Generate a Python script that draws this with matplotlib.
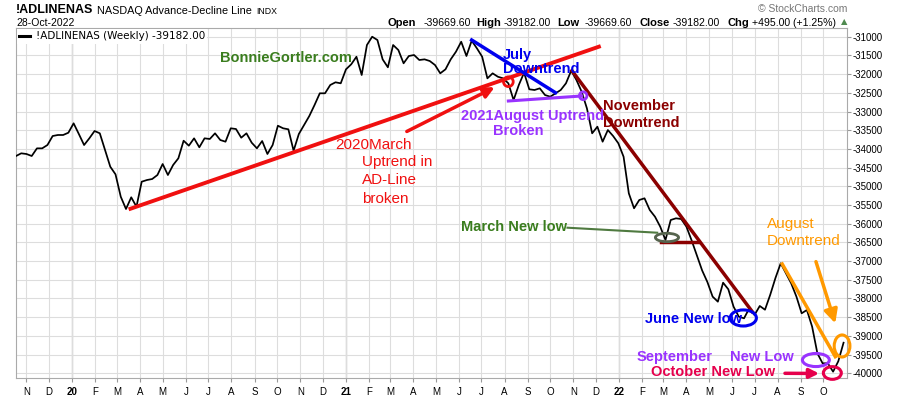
import matplotlib
matplotlib.use('Agg')
import matplotlib.pyplot as plt
import matplotlib.dates as mdates
from matplotlib.patches import Ellipse
import pandas as pd

plt.rcParams['font.family'] = ['Liberation Sans', 'DejaVu Sans']
plt.rcParams['axes.unicode_minus'] = False

# weekly closes of the NASDAQ advance-decline line
weeks = pd.date_range('2019-10-18', periods=159, freq='7D')
adline = [
    -34190, -34118, -34136, -34190, -33985, -33985, -33896, -33655, -33628, -33628,
    -33567, -33316, -33602, -33896, -33717, -33521, -33583, -34029, -34476, -34680,
    -35278, -35607, -35294, -35545, -34877, -34832, -34805, -34698, -34404, -34698,
    -34430, -34251, -33781, -33914, -33717, -33957, -33717, -33735, -33583, -33762,
    -33807,
    -33449, -33468, -33700, -33583, -33834, -33984, -33789, -34136, -33896, -33380,
    -33449, -33476, -34048, -33602, -33361, -33120, -32826, -32513, -32513, -32291,
    -32219, -32246, -31872, -31738, -31535, -32024, -31222, -31000, -31088, -31605,
    -31818, -31222, -31356, -31711, -31516, -31489, -31623, -31605, -31650,
    -31757, -31979, -31872, -31605, -31401, -31134, -31516, -31107, -31311, -31535,
    -32113, -31979, -32070, -32113, -32246, -32693, -32291, -31963, -32406, -32425,
    -32380, -32559, -32604, -32513, -32425, -32246, -31909, -32158, -32471, -32915,
    -33583, -33406, -33807, -33495, -33655, -33850, -34209, -35187, -35588, -35366,
    -35321, -35634, -35813, -36080, -36436, -35901, -35856, -35874, -36080, -36450,
    -36850, -37250, -37560, -37950, -38085, -37577, -37754, -38219, -38486, -38530,
    -38262, -38441, -38200, -38300, -37900, -37450, -37059, -37326, -37594, -37950,
    -38396, -38307, -38754, -39465, -39733, -39733, -39957, -39677, -39182,
]

month_ticks = pd.date_range('2019-11-01', '2022-10-01', freq='MS')
month_labels = ['N', 'D',
                '20', 'F', 'M', 'A', 'M', 'J', 'J', 'A', 'S', 'O', 'N', 'D',
                '21', 'F', 'M', 'A', 'M', 'J', 'J', 'A', 'S', 'O', 'N', 'D',
                '22', 'F', 'M', 'A', 'M', 'J', 'J', 'A', 'S', 'O']
value_ticks = list(range(-40000, -30999, 500))


def d(s):
    return mdates.date2num(pd.Timestamp(s))


fig = plt.figure(figsize=(9, 3.96), dpi=100)
ax = fig.add_axes([16 / 900, 1 - 378.3 / 396, 831.3 / 900, 350 / 396])

ax.plot(weeks, adline, color='black', lw=1.25, zorder=3,
        label=f'!ADLINENAS (Weekly) {adline[-1]:.2f}')

ax.set_xlim(pd.Timestamp('2019-10-18'), pd.Timestamp('2022-11-02'))
ax.set_ylim(-40134, -30775)

# axes / grid
ax.set_xticks(month_ticks)
ax.set_xticklabels(month_labels)
for lab in ax.get_xticklabels():
    if lab.get_text().isdigit():
        lab.set_fontweight('bold')
        lab.set_fontsize(7.5)
ax.yaxis.tick_right()
ax.set_yticks(value_ticks)
ax.set_yticklabels([str(v) for v in value_ticks])
ax.tick_params(axis='x', length=3, pad=3, labelsize=7, color='#999999')
ax.tick_params(axis='y', length=3, pad=1, labelsize=7, color='#999999')
ax.grid(True, color='#dddddd', lw=0.8, zorder=0)
for t, lab in zip(month_ticks, month_labels):
    if lab.isdigit():
        ax.axvline(t, color='#aaaaaa', lw=0.9, zorder=1)
for sp in ax.spines.values():
    sp.set_color('#aaaaaa')
    sp.set_linewidth(0.8)

leg = ax.legend(loc='upper left', bbox_to_anchor=(0.0, 1.0), handlelength=1.0,
                handletextpad=0.6, borderaxespad=0.1, borderpad=0.2,
                frameon=True, fancybox=False, edgecolor='none', framealpha=1,
                prop={'family': 'DejaVu Sans', 'size': 7.5})
leg.get_lines()[0].set_linewidth(2.2)
leg.set_zorder(5)

# analyst drawings
red = '#f01010'
blue = '#0000ee'
purple = '#9933ff'
brown = '#8b0000'
green = '#3a7d1e'
orange = '#ff9900'
crimson = '#e6004c'

ax.plot([d('2020-03-19'), d('2021-12-05')], [-35600, -31267], color=red, lw=2.8, zorder=4)
ax.annotate('', xy=(d('2021-07-22'), -32318), xytext=(d('2021-03-20'), -33567),
            arrowprops=dict(arrowstyle='-|>', color=red, lw=2.5, mutation_scale=16), zorder=4)
ax.add_patch(Ellipse((d('2021-08-06'), -32203), 13, 260, fill=False, ec=red, lw=2, zorder=5))
ax.text(d('2020-12-18'), -33896, '2020March', color=red, fontsize=11, ha='left', va='center')
ax.text(d('2021-01-22'), -34150, 'Uptrend in\nAD-Line\nbroken', color=red, fontsize=11,
        ha='left', va='top', linespacing=1.42)

ax.text(d('2020-07-16'), -31556, 'BonnieGortler.com', color=green, fontsize=10.5,
        fontweight='bold', ha='left', va='center')

ax.plot([d('2021-06-18'), d('2021-10-08')], [-31088, -32497], color=blue, lw=2.5, zorder=4)
ax.text(d('2021-07-30'), -31489, 'July', color=blue, fontsize=10.5, fontweight='bold',
        ha='left', va='center', zorder=6)
ax.text(d('2021-07-30'), -31864, 'Downtrend', color=blue, fontsize=10.5, fontweight='bold',
        ha='left', va='center', zorder=6)

ax.plot([d('2021-08-06'), d('2021-11-12')], [-32719, -32585], color=purple, lw=2.2, zorder=4)
ax.add_patch(Ellipse((d('2021-11-14'), -32578), 10, 210, fill=False, ec=purple, lw=2, zorder=5))
ax.text(d('2021-06-04'), -33120, '2021August Uptrend', color=purple, fontsize=10.5,
        fontweight='bold', ha='left', va='center', zorder=6)
ax.text(d('2021-07-17'), -33521, 'Broken', color=purple, fontsize=10.5,
        fontweight='bold', ha='left', va='center', zorder=6)

ax.plot([d('2021-10-30'), d('2022-06-28')], [-31909, -38353], color=brown, lw=2.5, zorder=4)
ax.plot([d('2022-02-26'), d('2022-04-17')], [-36481, -36481], color=brown, lw=2.5, zorder=4)
ax.text(d('2021-12-10'), -32853, 'November', color=brown, fontsize=10.5, fontweight='bold',
        ha='left', va='center', zorder=6)
ax.text(d('2021-12-10'), -33294, 'Downtrend', color=brown, fontsize=10.5, fontweight='bold',
        ha='left', va='center', zorder=6)

ax.text(d('2021-06-04'), -36088, 'March New low', color=green, fontsize=10.5,
        fontweight='bold', ha='left', va='center', zorder=6)
ax.plot([d('2021-10-24'), d('2022-02-21')], [-36107, -36241], color='#4f7a40', lw=1.5, zorder=4)
ax.add_patch(Ellipse((d('2022-03-06'), -36369), 31, 225, fill=False, ec='#56644e', lw=2, zorder=5))

ax.text(d('2022-02-05'), -38535, 'June New low', color=blue, fontsize=10.5,
        fontweight='bold', ha='left', va='center', zorder=6)
ax.add_patch(Ellipse((d('2022-06-16'), -38521), 35, 430, fill=False, ec=blue, lw=2.2, zorder=7))

ax.plot([d('2022-08-07'), d('2022-10-17')], [-37078, -39556], color=orange, lw=2.5, zorder=4)
ax.text(d('2022-07-18'), -36008, 'August', color=orange, fontsize=11, ha='left', va='center')
ax.text(d('2022-07-18'), -36463, 'Downtrend', color=orange, fontsize=11, ha='left', va='center')
ax.annotate('', xy=(d('2022-10-18'), -38735), xytext=(d('2022-09-20'), -36944),
            arrowprops=dict(arrowstyle='-|>', color=orange, lw=2.5, mutation_scale=20), zorder=4)
ax.add_patch(Ellipse((d('2022-10-26'), -39270), 21, 590, fill=False, ec=orange, lw=2.2,
                     zorder=7, clip_on=False))

ax.text(d('2022-01-24'), -39564, 'September', color=purple, fontsize=10.5,
        fontweight='bold', ha='left', va='center', zorder=6)
ax.text(d('2022-05-29'), -39564, 'New Low', color=purple, fontsize=10.5,
        fontweight='bold', ha='left', va='center', zorder=6)
ax.add_patch(Ellipse((d('2022-09-21'), -39645), 36, 350, fill=False, ec=purple, lw=2.2, zorder=7))

ax.text(d('2022-02-13'), -39966, 'October New Low', color=crimson, fontsize=10.5,
        fontweight='bold', ha='left', va='center', zorder=6)
ax.annotate('', xy=(d('2022-09-29'), -40005), xytext=(d('2022-08-07'), -40000),
            arrowprops=dict(arrowstyle='-|>', color=crimson, lw=2.5, mutation_scale=14), zorder=6)
ax.add_patch(Ellipse((d('2022-10-13'), -39992), 24, 340, fill=False, ec=crimson, lw=2.2,
                     zorder=7, clip_on=False))

# header
fig.text(16 / 900, 1 - 10 / 396, '!ADLINENAS', fontsize=9, fontweight='bold', va='center')
fig.text(97 / 900, 1 - 10.5 / 396, 'NASDAQ Advance-Decline Line', fontsize=7.8, va='center')
fig.text(256 / 900, 1 - 11 / 396, 'INDX', fontsize=6.3, va='center')
fig.text(16 / 900, 1 - 23 / 396, '28-Oct-2022', fontsize=7.5, va='center')
fig.text(847 / 900, 1 - 9 / 396, '© StockCharts.com', fontsize=7.5, color='#777777',
         ha='right', va='center')
header = [('Open', 'bold', 388), ('-39669.60', 'normal', 424),
          ('High', 'bold', 476.7), ('-39182.00', 'normal', 503.3),
          ('Low', 'bold', 557.3), ('-39669.60', 'normal', 584.3),
          ('Close', 'bold', 639), ('-39182.00', 'normal', 672.7),
          ('Chg', 'bold', 727.7), ('+495.00 (+1.25%)', 'normal', 752.3)]
for s, w, x in header:
    fig.text(x / 900, 1 - 23 / 396, s, fontsize=8 if w == 'bold' else 7.6,
             fontweight=w, va='center')
fig.text(844 / 900, 1 - 22 / 396, '▲', fontsize=6, color='#4f8a4f', ha='center',
         va='center', family='DejaVu Sans')

fig.savefig('out.png', dpi=100)
